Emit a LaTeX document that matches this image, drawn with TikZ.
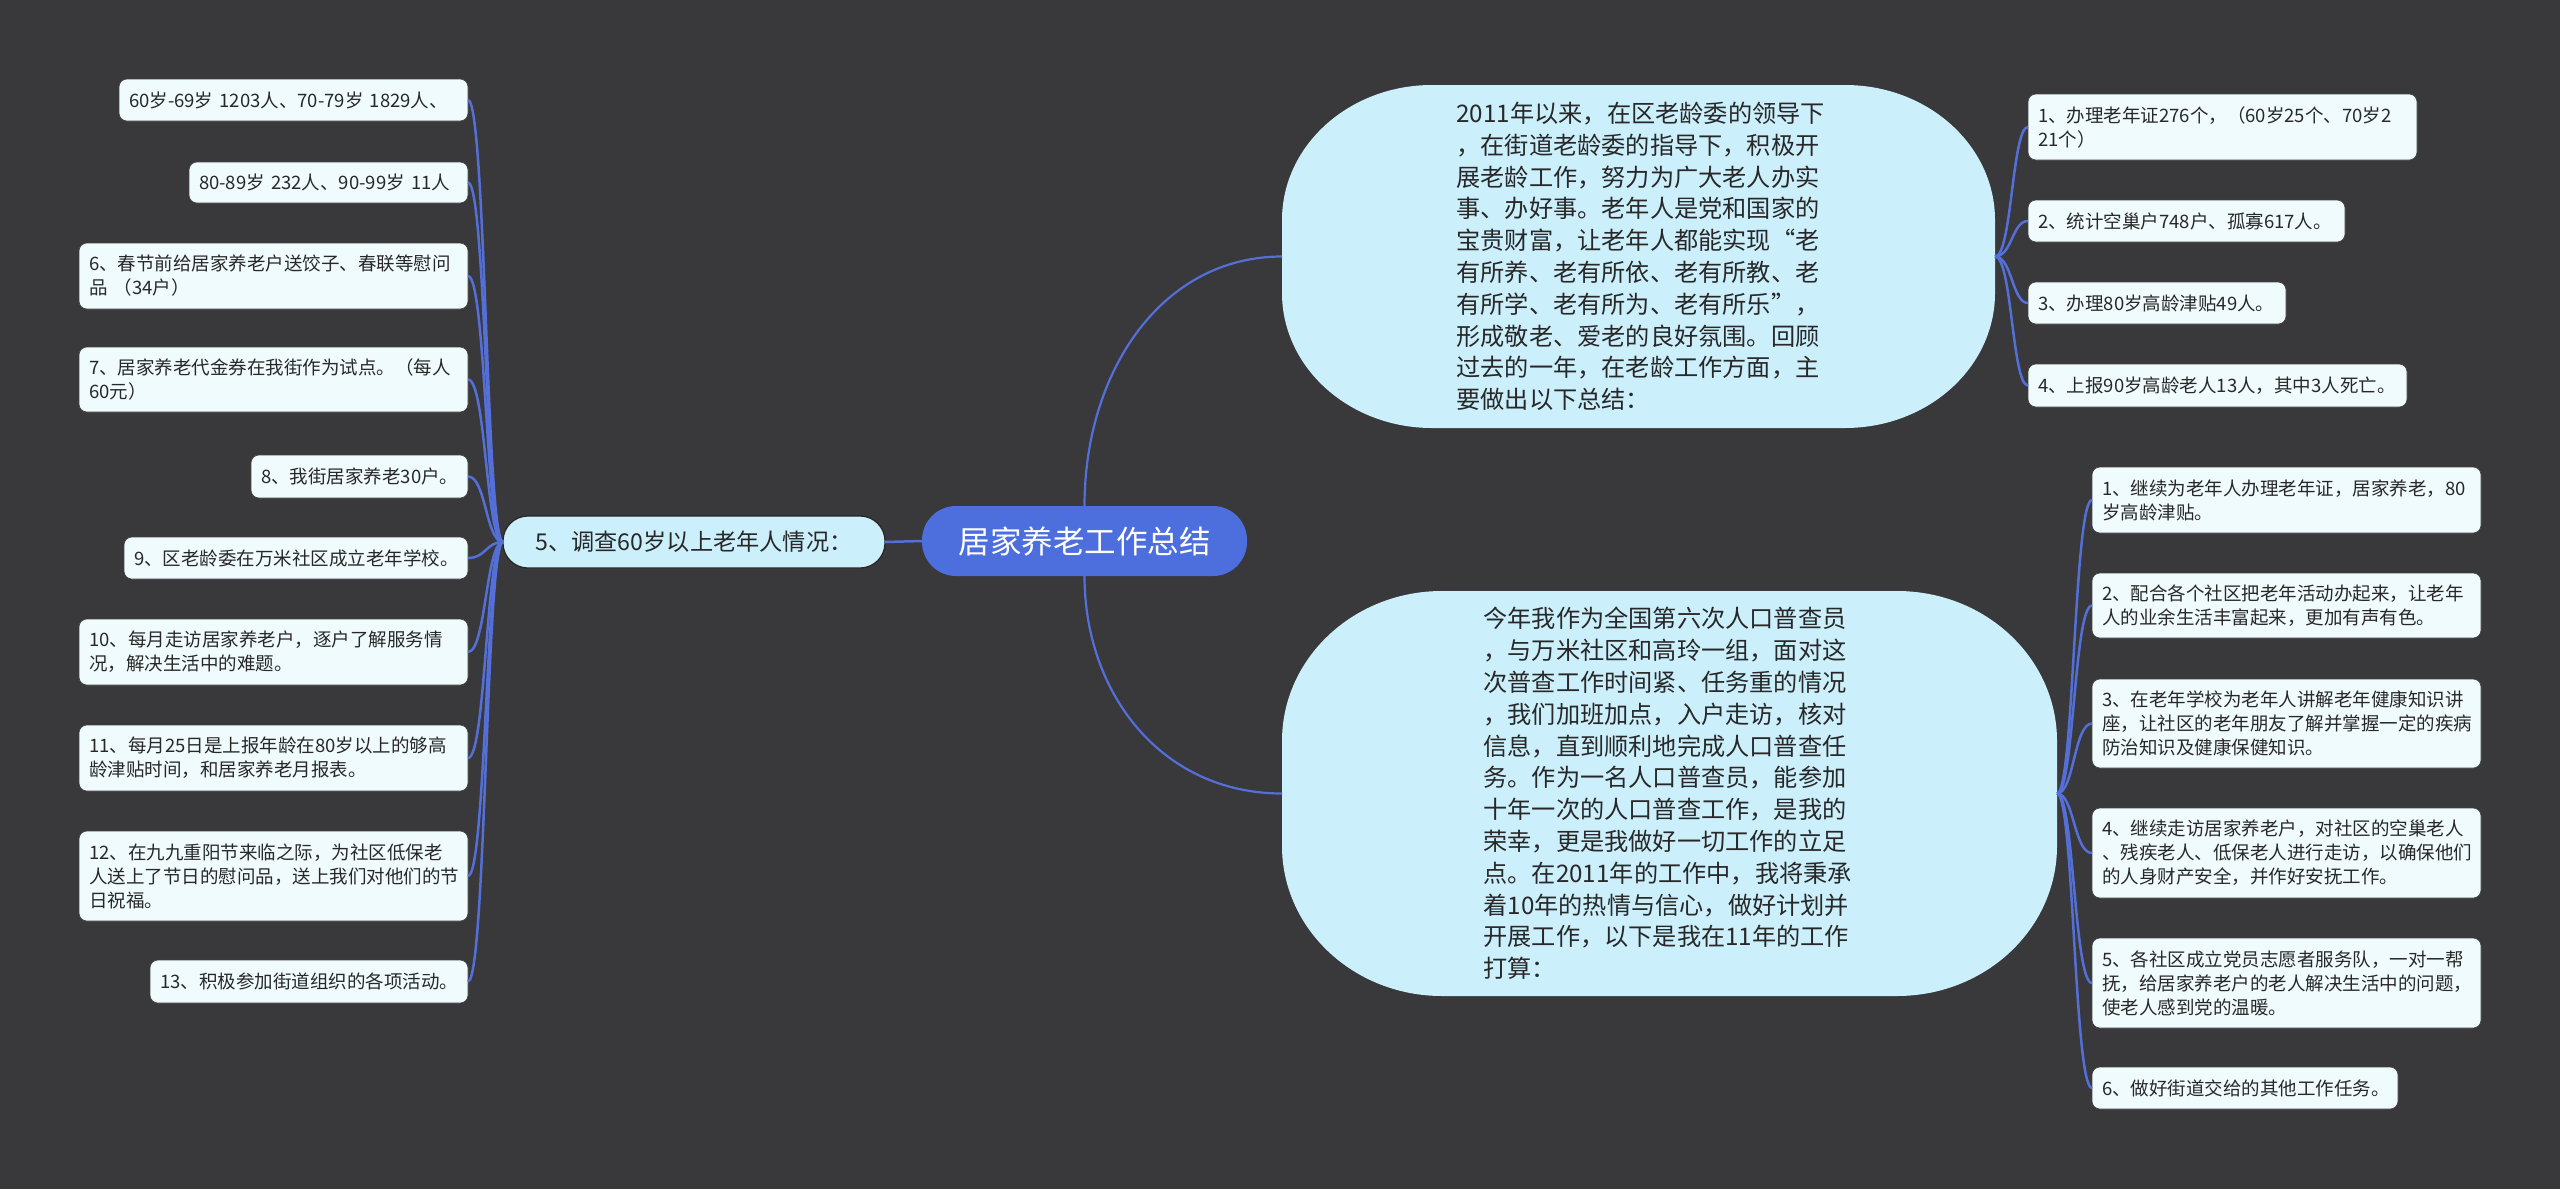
\documentclass[tikz,border=0pt]{standalone}
\usepackage{fontspec}
\setmainfont{Noto Sans CJK SC}
\usetikzlibrary{calc}
\definecolor{bgc}{RGB}{57,56,58}
\definecolor{linkc}{RGB}{84,112,216}
\definecolor{rootc}{RGB}{77,111,222}
\definecolor{mainc}{RGB}{204,239,252}
\definecolor{leafc}{RGB}{240,251,254}
\definecolor{txtc}{RGB}{40,40,40}
\tikzset{
  conn/.style={draw=linkc, line width=2.5pt},
  leaf/.style={rectangle, rounded corners=8pt, fill=leafc, draw=black!75, line width=0.6pt,
    inner xsep=10pt, inner ysep=0pt, outer sep=0pt, align=left, text=txtc,
    font=\fontsize{18.5pt}{24pt}\selectfont},
  root/.style={rectangle, rounded corners=34pt, fill=rootc, text=white, minimum width=325pt,
    minimum height=70pt, inner sep=0pt, outer sep=0pt, font=\fontsize{31.5pt}{36pt}\selectfont},
  mainbox/.style={rectangle, rounded corners=25pt, fill=mainc, draw=black!85, line width=1.2pt,
    minimum width=382pt, minimum height=52pt, inner sep=0pt, outer sep=0pt, text=txtc,
    font=\fontsize{23.2pt}{28pt}\selectfont},
  bigtext/.style={rectangle, inner sep=0pt, outer sep=0pt, align=left, text=txtc,
    font=\fontsize{24.2pt}{31.8pt}\selectfont}
}
\begin{document}
\begin{tikzpicture}[x=1pt,y=-1pt]
\useasboundingbox (0,0) rectangle (2560,1189);
\fill[bgc] (0,0) rectangle (2560,1189);
% big rounded shapes
\fill[mainc] (1432,85) -- (1845,85) .. controls (1927.8,85) and (1995,145.4) .. (1995,220)
  -- (1995,293) .. controls (1995,367.6) and (1927.8,428) .. (1845,428)
  -- (1432,428) .. controls (1349.2,428) and (1282,367.6) .. (1282,293)
  -- (1282,220) .. controls (1282,145.4) and (1349.2,85) .. (1432,85) -- cycle;
\fill[mainc] (1442,591) -- (1897,591) .. controls (1985.4,591) and (2057,658.2) .. (2057,741)
  -- (2057,846) .. controls (2057,928.8) and (1985.4,996) .. (1897,996)
  -- (1442,996) .. controls (1353.6,996) and (1282,928.8) .. (1282,846)
  -- (1282,741) .. controls (1282,658.2) and (1353.6,591) .. (1442,591) -- cycle;

\node[root] (C) at (1084.5,541) {居家养老工作总结};
\node[mainbox] (N5) at (694,542) {5、调查60岁以上老年人情况：};

\node[bigtext, text width=364pt, minimum width=713pt, minimum height=343pt] (T) at (1638.5,256.5) {2011年以来，在区老龄委的领导下\\，在街道老龄委的指导下，积极开\\展老龄工作，努力为广大老人办实\\事、办好事。老年人是党和国家的\\宝贵财富，让老年人都能实现“老\\有所养、老有所依、老有所教、老\\有所学、老有所为、老有所乐”，\\形成敬老、爱老的良好氛围。回顾\\过去的一年，在老龄工作方面，主\\要做出以下总结：};

\node[bigtext, text width=372pt, minimum width=775pt, minimum height=405pt] (B) at (1669.5,793.5) {今年我作为全国第六次人口普查员\\，与万米社区和高玲一组，面对这\\次普查工作时间紧、任务重的情况\\，我们加班加点，入户走访，核对\\信息，直到顺利地完成人口普查任\\务。作为一名人口普查员，能参加\\十年一次的人口普查工作，是我的\\荣幸，更是我做好一切工作的立足\\点。在2011年的工作中，我将秉承\\着10年的热情与信心，做好计划并\\开展工作，以下是我在11年的工作\\打算：};

% left leaves
\node[leaf, text width=329pt, minimum height=42pt, anchor=east] (L1) at (468,100) {\mbox{60岁-69岁 1203人、70-79岁 1829人、}};
\node[leaf, text width=259pt, minimum height=41pt, anchor=east] (L2) at (468,182.5) {\mbox{80-89岁 232人、90-99岁 11人}};
\node[leaf, text width=369pt, minimum height=66pt, anchor=east] (L3) at (468,276) {6、春节前给居家养老户送饺子、春联等慰问\\\mbox{品 （34户）}};
\node[leaf, text width=369pt, minimum height=65pt, anchor=east] (L4) at (468,379.5) {7、居家养老代金券在我街作为试点。（每人\\60元）};
\node[leaf, text width=197pt, minimum height=43pt, anchor=east] (L5) at (468,476.5) {8、我街居家养老30户。};
\node[leaf, text width=324pt, minimum height=42pt, anchor=east] (L6) at (468,558) {9、区老龄委在万米社区成立老年学校。};
\node[leaf, text width=369pt, minimum height=66pt, anchor=east] (L7) at (468,652) {10、每月走访居家养老户，逐户了解服务情\\况，解决生活中的难题。};
\node[leaf, text width=369pt, minimum height=66pt, anchor=east] (L8) at (468,758) {11、每月25日是上报年龄在80岁以上的够高\\龄津贴时间，和居家养老月报表。};
\node[leaf, text width=369pt, minimum height=90pt, anchor=east] (L9) at (468,876) {12、在九九重阳节来临之际，为社区低保老\\人送上了节日的慰问品，送上我们对他们的节\\日祝福。};
\node[leaf, text width=298pt, minimum height=43pt, anchor=east] (L10) at (468,981.5) {13、积极参加街道组织的各项活动。};

% right top leaves
\node[leaf, text width=369pt, minimum height=66pt, anchor=west] (R1) at (2028,127) {1、办理老年证276个，（60岁25个、70岁2\\21个）};
\node[leaf, text width=297pt, minimum height=42pt, anchor=west] (R2) at (2028,221) {2、统计空巢户748户、孤寡617人。};
\node[leaf, text width=238pt, minimum height=42pt, anchor=west] (R3) at (2028,303) {3、办理80岁高龄津贴49人。};
\node[leaf, text width=359pt, minimum height=43pt, anchor=west] (R4) at (2028,385.5) {4、上报90岁高龄老人13人，其中3人死亡。};

% right bottom leaves
\node[leaf, text width=369pt, minimum height=66pt, anchor=west] (B1) at (2092,500) {1、继续为老年人办理老年证，居家养老，80\\岁高龄津贴。};
\node[leaf, text width=369pt, minimum height=65pt, anchor=west] (B2) at (2092,605.5) {2、配合各个社区把老年活动办起来，让老年\\人的业余生活丰富起来，更加有声有色。};
\node[leaf, text width=369pt, minimum height=89pt, anchor=west] (B3) at (2092,723.5) {3、在老年学校为老年人讲解老年健康知识讲\\座，让社区的老年朋友了解并掌握一定的疾病\\防治知识及健康保健知识。};
\node[leaf, text width=369pt, minimum height=90pt, anchor=west] (B4) at (2092,853) {4、继续走访居家养老户，对社区的空巢老人\\、残疾老人、低保老人进行走访，以确保他们\\的人身财产安全，并作好安抚工作。};
\node[leaf, text width=369pt, minimum height=90pt, anchor=west] (B5) at (2092,983) {5、各社区成立党员志愿者服务队，一对一帮\\抚，给居家养老户的老人解决生活中的问题，\\使老人感到党的温暖。};
\node[leaf, text width=286pt, minimum height=42pt, anchor=west] (B6) at (2092,1088) {6、做好街道交给的其他工作任务。};

% connectors
\draw[conn] (C.west) -- (N5.east);
\draw[conn, line width=2.2pt] (C.north) .. controls +(0,-135) and +(-120,0) .. (T.west);
\draw[conn, line width=2.2pt] (C.south) .. controls +(0,118) and +(-120,0) .. (B.west);
\foreach \n in {L1,L2,L3,L4,L5,L6,L7,L8,L9,L10}
  \draw[conn] (N5.west) .. controls +(-17,0) and +(18,0) .. (\n.east);
\foreach \n in {R1,R2,R3,R4}
  \draw[conn] (T.east) .. controls +(17,0) and +(-16,0) .. (\n.west);
\foreach \n in {B1,B2,B3,B4,B5,B6}
  \draw[conn] (B.east) .. controls +(17,0) and +(-18,0) .. (\n.west);
\end{tikzpicture}
\end{document}
